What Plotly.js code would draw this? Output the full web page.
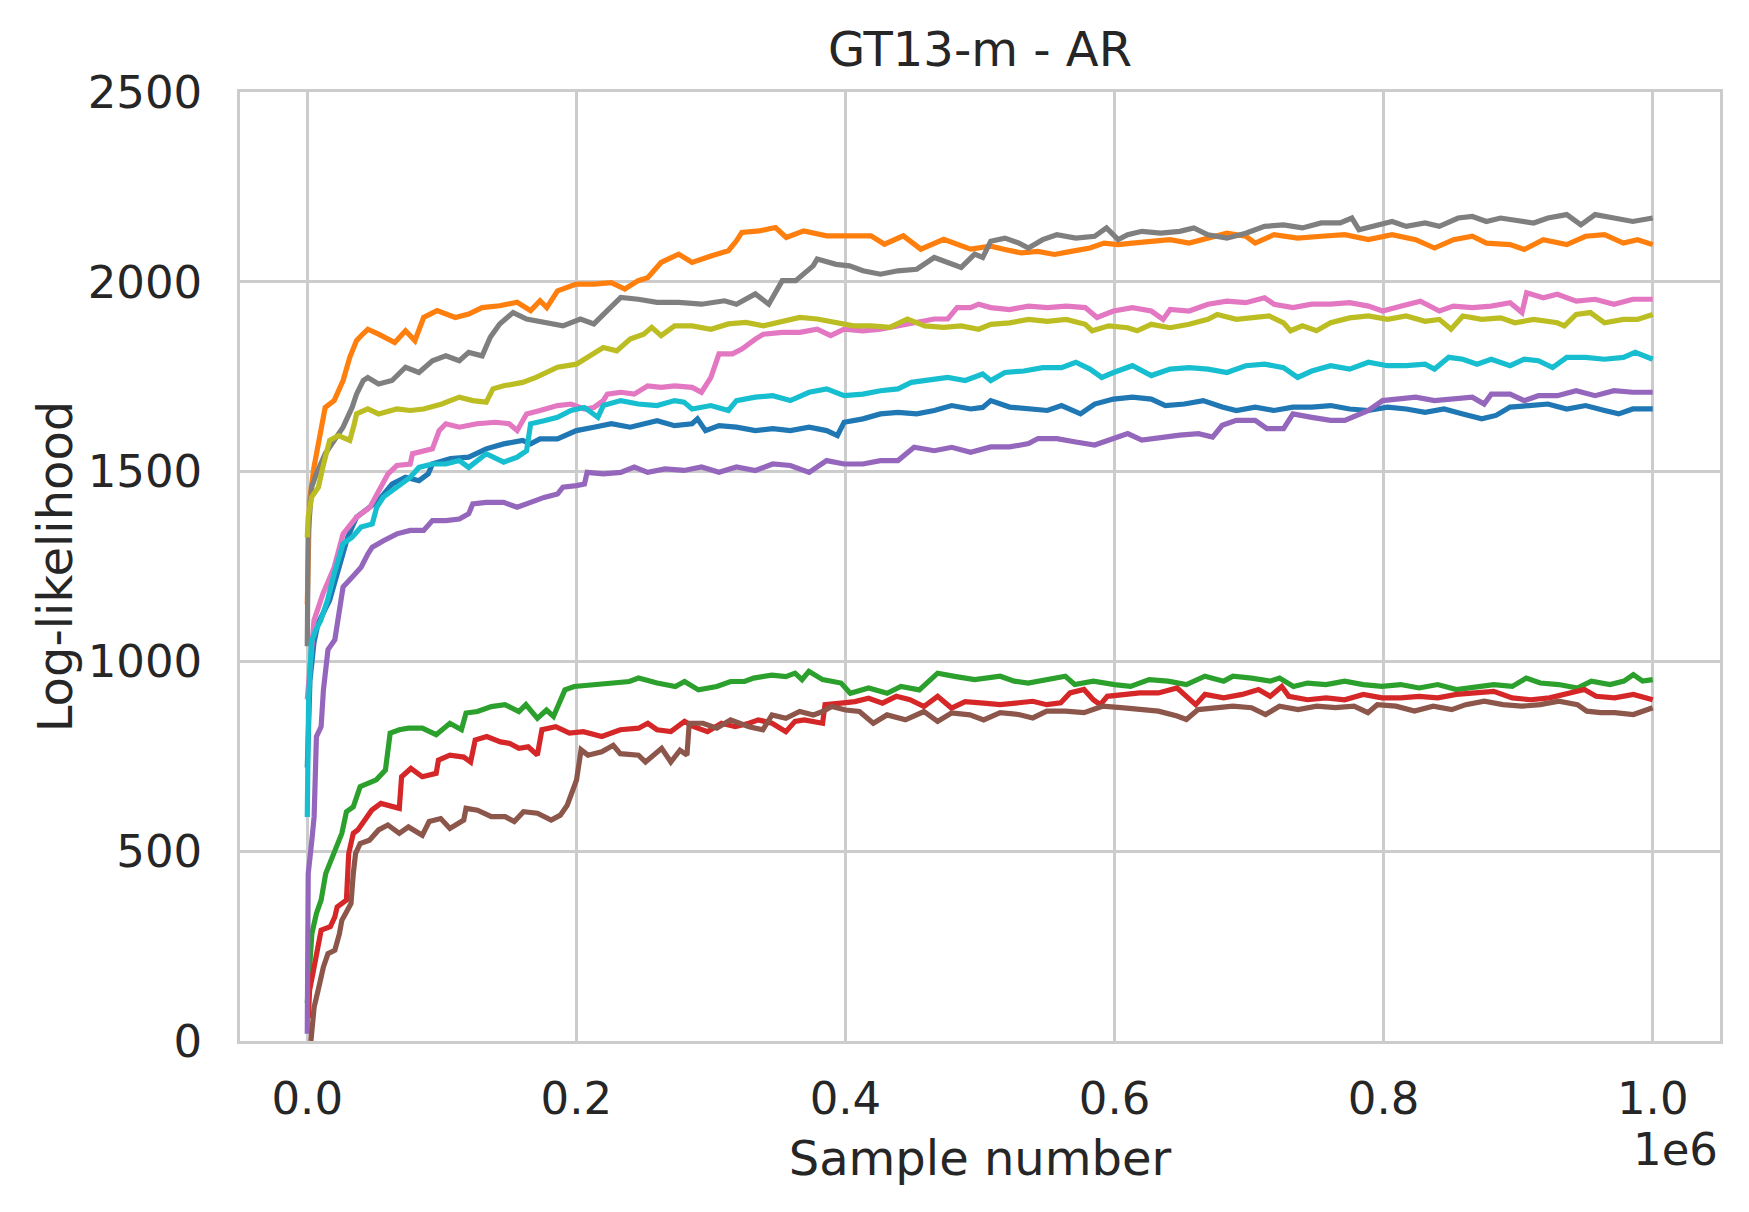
<!DOCTYPE html>
<html>
<head>
<meta charset="utf-8">
<script src="https://cdn.plot.ly/plotly-3.0.1.min.js"></script>
<style>
  html, body { margin: 0; padding: 0; background: #ffffff; }
  #chart { width: 1749px; height: 1212px; }
</style>
</head>
<body>
<div id="chart"></div>
<script>
// tick labels
var xTickVals = [0, 200000, 400000, 600000, 800000, 1000000]
var xTickText = ["0.0", "0.2", "0.4", "0.6", "0.8", "1.0"]
var yTickVals = [0, 500, 1000, 1500, 2000, 2500]

// series values (sample number, log-likelihood)
var blueX = [0, 2000, 5000, 8000, 16600, 23300, 30000, 36600, 43300, 53000, 63000, 73000, 83000, 89900, 93000, 106500, 120000, 133000, 146000, 160000, 166000, 173000, 186000, 200000, 213000, 226000, 240000, 250000, 260000, 273000, 286000, 290000, 296000, 306000, 319000, 333000, 346000, 359000, 373000, 386000, 394000, 399000, 413000, 426000, 439000, 453000, 466000, 479000, 493000, 502000,
    508000, 522000, 536100, 550100, 560600, 574700, 585200, 599200, 613300, 627300, 637800, 651900, 665900, 680000, 690500, 704500, 718500, 732600, 746600, 760600, 774700, 788700, 802800, 816800, 830800, 844900, 858900, 872900, 883500, 894000, 908000, 922100, 936100, 950100, 964200, 974700, 985200, 1000000]
var blueY = [720, 950, 1050, 1100, 1161, 1248, 1327, 1380, 1397, 1424, 1467, 1485, 1476, 1494, 1520, 1534, 1538, 1560, 1573, 1582, 1573, 1586, 1586, 1608, 1617, 1626, 1617, 1626, 1634, 1621, 1626, 1639, 1608, 1621, 1617, 1608, 1613, 1608, 1617, 1608, 1595, 1630, 1639, 1652, 1656, 1652, 1661, 1674, 1665, 1669,
    1687, 1670, 1665, 1661, 1674, 1652, 1678, 1691, 1696, 1691, 1674, 1678, 1687, 1670, 1661, 1670, 1661, 1670, 1670, 1674, 1665, 1661, 1670, 1665, 1656, 1665, 1652, 1639, 1648, 1670, 1674, 1678, 1665, 1674, 1661, 1652, 1665, 1665]

var orangeX = [0, 1000, 1664, 5000, 8320, 13300, 20000, 26600, 31600, 36600, 40000, 45000, 53000, 65000, 73000, 80000, 86500, 96500, 110000, 120000, 130000, 143000, 156000, 166000, 173000, 178000, 186000, 200000, 213000, 226000, 236000, 246000, 253000, 263000, 276000, 286000, 300000, 313000, 319000, 323000, 336000, 348000, 356000, 369000, 386000, 401000, 419000, 429000, 443000, 456000, 473000, 493000,
    508000, 518500, 530800, 543000, 555400, 567700, 581700, 592200, 602700, 613300, 627300, 641300, 655400, 669400, 683500, 697500, 704500, 718500, 736100, 753600, 771200, 788700, 806300, 823800, 837800, 851900, 865900, 876400, 894000, 904500, 918600, 936100, 950100, 964200, 978200, 988700, 1000000]
var orangeY = [1150, 1400, 1424, 1512, 1582, 1669, 1687, 1740, 1801, 1845, 1858, 1875, 1862, 1840, 1871, 1845, 1906, 1924, 1906, 1915, 1932, 1937, 1946, 1924, 1950, 1932, 1976, 1994, 1994, 1998, 1981, 2003, 2011, 2051, 2073, 2051, 2068, 2082, 2108, 2130, 2134, 2143, 2117, 2134, 2121, 2121, 2121, 2099, 2121, 2086, 2112, 2086,
    2094, 2085, 2076, 2080, 2072, 2080, 2089, 2102, 2098, 2102, 2107, 2111, 2102, 2115, 2128, 2120, 2102, 2124, 2115, 2120, 2124, 2111, 2124, 2111, 2089, 2111, 2120, 2102, 2098, 2085, 2111, 2098, 2120, 2124, 2102, 2111, 2098]

var greenX = [0, 700, 1700, 3400, 6800, 10300, 13700, 18800, 22200, 25700, 29100, 34200, 39300, 44500, 51300, 58100, 61600, 68400, 75200, 85500, 95800, 106000, 114600, 118000, 126500, 136800, 147000, 157300, 162500, 171000, 177800, 183000, 191500, 198400, 212000, 225700, 239400, 246200, 260000, 273600, 280400, 290700, 304400, 314600, 325000, 331700, 345400, 355700, 362500, 367700, 372800, 383000, 396700, 403600, 417200, 431000, 441200, 454900, 468500, 482200, 496000,
    515000, 525400, 535800, 549600, 563400, 570400, 584200, 600000, 611900, 625700, 639600, 653400, 667200, 681100, 688000, 701800, 715700, 722600, 733000, 743400, 757200, 771000, 784900, 798700, 812600, 826400, 840200, 854100, 867900, 881800, 895600, 906000, 916400, 930200, 944000, 954400, 968300, 978600, 985600, 992500, 1000000]
var greenY = [100, 150, 177, 283, 336, 371, 441, 485, 512, 547, 604, 617, 670, 679, 688, 714, 811, 820, 824, 824, 807, 837, 820, 864, 868, 881, 886, 868, 886, 850, 872, 855, 925, 934, 938, 943, 947, 956, 943, 934, 947, 925, 934, 947, 947, 956, 964, 960, 969, 952, 974, 952, 943, 916, 930, 916, 934, 925, 969, 960, 952,
    961, 948, 943, 952, 961, 939, 948, 939, 934, 952, 948, 939, 961, 948, 961, 956, 948, 956, 934, 943, 939, 948, 939, 934, 939, 930, 939, 926, 934, 939, 934, 956, 943, 939, 930, 948, 939, 948, 965, 948, 952]

var redX = [800, 1700, 5100, 8600, 10300, 17100, 20500, 22200, 25700, 29100, 30800, 34200, 37600, 42800, 47900, 54700, 61600, 68400, 70100, 77000, 85500, 95800, 97500, 106000, 116300, 121400, 124800, 133400, 143600, 150500, 157300, 164200, 171000, 174400, 184700, 194900, 205200, 218900, 232600, 246200, 253100, 259900, 270200, 280400, 287300, 297500, 307800, 318100, 328300, 335200, 345400, 355700, 362500, 369400, 383000, 384800, 396700, 407000, 417200, 427500, 437800, 448000, 458300, 468500, 478800, 489000, 502700,
    515000, 528800, 539200, 549600, 560000, 566900, 577300, 584200, 589400, 594600, 605000, 618800, 632600, 646500, 653400, 660300, 667200, 681100, 694900, 707000, 715700, 724300, 729500, 743400, 757200, 771000, 784900, 798700, 812600, 826400, 840200, 854100, 867900, 881800, 895600, 909400, 923300, 937100, 949200, 957900, 971700, 985600, 1000000]
var redY = [60, 133, 195, 265, 292, 301, 327, 353, 362, 371, 494, 547, 556, 582, 608, 626, 621, 613, 696, 718, 696, 705, 740, 753, 748, 735, 793, 802, 788, 784, 771, 775, 753, 820, 828, 811, 815, 802, 820, 824, 837, 820, 815, 842, 828, 815, 837, 828, 837, 846, 837, 815, 842, 846, 837, 886, 890, 894, 903, 890, 908, 899, 881, 908, 877, 894, 890,
    886, 891, 895, 886, 891, 917, 926, 899, 886, 908, 913, 917, 917, 930, 908, 886, 913, 904, 913, 926, 908, 934, 908, 899, 904, 899, 913, 904, 904, 908, 904, 913, 917, 921, 904, 899, 904, 917, 926, 908, 904, 913, 899]

var purpleX = [0, 700, 3400, 5100, 6800, 10300, 12000, 15400, 20500, 26600, 33300, 40000, 45000, 48300, 56600, 66600, 76500, 86500, 93000, 103000, 113000, 120000, 123000, 133000, 146000, 156000, 166000, 176000, 186000, 190000, 200000, 206000, 208000, 220000, 233000, 243000, 253000, 266000, 280000, 293000, 306000, 319000, 333000, 346000, 359000, 373000, 386000, 399000, 413000, 426000, 439000, 451000, 466000, 479000, 493000,
    508000, 522000, 536100, 543100, 557100, 571200, 585200, 599200, 609800, 620300, 634300, 648400, 662400, 672900, 680000, 690500, 704500, 713300, 725600, 732600, 746600, 760600, 771200, 781700, 788700, 799200, 809800, 823800, 837800, 851900, 865900, 874700, 880000, 894000, 904500, 915000, 929100, 943100, 957200, 971200, 985200, 1000000]
var purpleY = [19, 441, 529, 591, 802, 828, 925, 1031, 1057, 1196, 1222, 1248, 1283, 1301, 1318, 1336, 1345, 1345, 1371, 1371, 1375, 1389, 1415, 1419, 1419, 1406, 1419, 1432, 1441, 1459, 1463, 1467, 1498, 1494, 1498, 1512, 1498, 1507, 1503, 1512, 1498, 1512, 1503, 1520, 1516, 1498, 1529, 1520, 1520, 1529, 1529, 1564, 1555, 1564, 1551,
    1565, 1565, 1574, 1587, 1587, 1578, 1570, 1587, 1600, 1583, 1591, 1596, 1600, 1591, 1622, 1635, 1635, 1613, 1613, 1652, 1643, 1635, 1635, 1652, 1661, 1687, 1691, 1696, 1687, 1691, 1696, 1678, 1704, 1704, 1687, 1700, 1700, 1713, 1700, 1713, 1709, 1709]

var brownX = [2700, 5100, 8600, 12000, 15400, 20500, 23900, 25700, 29100, 32500, 34200, 35900, 39300, 46200, 53000, 59900, 68400, 75200, 85500, 90600, 99200, 106000, 116300, 118000, 126500, 136800, 147000, 153900, 160700, 171000, 181300, 188100, 193200, 196700, 200100, 203500, 208600, 218900, 227400, 232600, 246200, 251400, 259900, 263400, 270200, 277000, 282200, 283900, 294100, 304400, 314600, 328300, 338600, 345400, 355700, 366000, 376200, 383000, 389900, 400100, 410400, 420700, 430900, 444600, 458300, 468500, 478800, 492500, 502700,
    515000, 528800, 539200, 549600, 563400, 577300, 591100, 605000, 618800, 632600, 646500, 653400, 662100, 674200, 688000, 701800, 712200, 722600, 736400, 750300, 764100, 778000, 788300, 795300, 809100, 822900, 836800, 850600, 861000, 874800, 888700, 902500, 916400, 930200, 944000, 951000, 961300, 971700, 985600, 1000000]
var brownY = [0, 89, 142, 195, 230, 239, 283, 318, 340, 362, 441, 494, 520, 529, 556, 569, 547, 564, 542, 578, 586, 560, 582, 613, 608, 591, 591, 578, 604, 600, 582, 595, 621, 652, 687, 767, 753, 762, 779, 757, 753, 735, 762, 771, 735, 766, 753, 837, 837, 824, 846, 828, 820, 859, 850, 868, 859, 868, 881, 872, 868, 837, 859, 846, 868, 842, 864, 859, 846,
    865, 860, 851, 869, 869, 865, 882, 878, 873, 869, 856, 847, 873, 878, 882, 878, 860, 882, 873, 882, 878, 882, 865, 886, 882, 869, 882, 873, 886, 895, 886, 882, 886, 895, 886, 869, 865, 865, 860, 878]

var pinkX = [0, 3000, 5000, 11600, 20000, 26600, 36600, 46600, 53000, 60000, 66600, 76500, 78200, 86500, 93000, 98000, 103000, 113000, 126000, 140000, 150000, 156000, 163000, 173000, 186000, 196000, 206000, 213000, 220000, 223000, 233000, 243000, 253000, 263000, 273000, 286000, 293000, 300000, 306000, 316000, 323000, 333000, 339000, 353000, 366000, 379000, 389000, 399000, 413000, 426000, 439000, 453000, 466000, 476000, 483000, 493000, 499000,
    508000, 522000, 536100, 550100, 564100, 578200, 587000, 599200, 613300, 627300, 636100, 641300, 655400, 669400, 683500, 697500, 711500, 718500, 732600, 746600, 760600, 774700, 788700, 799200, 813300, 827300, 841400, 851900, 865900, 880000, 894000, 902800, 906300, 918600, 929100, 943100, 957200, 971200, 985200, 1000000]
var pinkY = [900, 1050, 1108, 1178, 1248, 1336, 1380, 1406, 1450, 1494, 1516, 1520, 1547, 1555, 1560, 1608, 1626, 1617, 1626, 1630, 1626, 1608, 1652, 1661, 1674, 1678, 1665, 1669, 1687, 1704, 1709, 1704, 1726, 1722, 1726, 1722, 1709, 1748, 1810, 1810, 1823, 1849, 1862, 1867, 1867, 1875, 1858, 1875, 1871, 1875, 1884, 1893, 1902, 1902, 1932, 1932, 1941,
    1932, 1927, 1936, 1932, 1936, 1932, 1906, 1923, 1932, 1923, 1901, 1927, 1923, 1941, 1949, 1945, 1958, 1941, 1932, 1941, 1941, 1945, 1936, 1923, 1936, 1949, 1923, 1936, 1932, 1936, 1945, 1919, 1971, 1958, 1967, 1949, 1954, 1941, 1954, 1954]

var grayX = [0, 666, 3300, 6700, 13300, 20000, 26600, 33300, 36600, 41600, 45000, 53000, 63000, 73000, 83000, 93000, 103000, 113000, 120000, 130000, 136000, 143000, 153000, 163000, 176000, 190000, 203000, 213000, 223000, 233000, 246000, 260000, 276000, 293000, 310000, 319000, 333000, 343000, 353000, 363000, 376000, 379000, 393000, 403000, 413000, 426000, 439000, 453000, 466000, 476000, 486000, 496000, 502000,
    508000, 518500, 529000, 536000, 546600, 557100, 571200, 585200, 594000, 602700, 609800, 620300, 634300, 648400, 658900, 669400, 683500, 697500, 711500, 725600, 739600, 753600, 767700, 776400, 781700, 795700, 806300, 816800, 830800, 841400, 855400, 865900, 876400, 886900, 901000, 911500, 922100, 936100, 946600, 957200, 971200, 985200, 1000000]
var grayY = [1040, 1336, 1459, 1494, 1547, 1582, 1617, 1669, 1704, 1740, 1748, 1731, 1740, 1775, 1761, 1792, 1805, 1792, 1814, 1805, 1854, 1889, 1919, 1902, 1893, 1884, 1902, 1889, 1924, 1959, 1954, 1946, 1946, 1941, 1950, 1941, 1968, 1941, 2003, 2003, 2042, 2060, 2046, 2042, 2029, 2020, 2029, 2033, 2064, 2051, 2038, 2073, 2064,
    2107, 2115, 2102, 2089, 2111, 2124, 2115, 2120, 2142, 2111, 2124, 2133, 2128, 2133, 2142, 2124, 2115, 2128, 2146, 2150, 2142, 2155, 2155, 2168, 2137, 2150, 2159, 2146, 2155, 2146, 2168, 2172, 2159, 2168, 2159, 2155, 2168, 2177, 2150, 2177, 2168, 2159, 2168]

var oliveX = [0, 666, 3300, 8300, 11600, 16600, 23300, 31600, 35000, 36600, 45000, 53000, 66600, 76500, 86500, 100000, 113000, 123000, 133000, 138000, 146000, 160000, 170000, 176000, 186000, 200000, 210000, 220000, 230000, 240000, 250000, 256000, 263000, 273000, 286000, 300000, 313000, 326000, 339000, 353000, 366000, 379000, 393000, 406000, 419000, 433000, 446000, 459000, 473000, 486000, 499000,
    508000, 522000, 536100, 550100, 564100, 578200, 583400, 595700, 609800, 616800, 627300, 641300, 655400, 669400, 676400, 690500, 704500, 715000, 725600, 730800, 739600, 750100, 760600, 774700, 788700, 802800, 816800, 830800, 841400, 850100, 858900, 872900, 887000, 897500, 911500, 929100, 934300, 943100, 953600, 964200, 978200, 988700, 1000000]
var oliveY = [1327, 1380, 1433, 1459, 1512, 1582, 1595, 1582, 1626, 1652, 1665, 1652, 1665, 1661, 1665, 1678, 1696, 1687, 1683, 1718, 1726, 1735, 1748, 1757, 1775, 1783, 1805, 1827, 1818, 1849, 1862, 1880, 1858, 1884, 1884, 1875, 1889, 1893, 1884, 1897, 1906, 1902, 1893, 1884, 1884, 1880, 1902, 1884, 1880, 1884, 1875,
    1888, 1892, 1901, 1896, 1901, 1888, 1871, 1884, 1879, 1871, 1888, 1879, 1888, 1901, 1914, 1901, 1905, 1910, 1892, 1871, 1884, 1871, 1892, 1905, 1910, 1901, 1910, 1896, 1901, 1875, 1910, 1901, 1905, 1892, 1901, 1892, 1884, 1914, 1919, 1892, 1901, 1901, 1914]

var cyanX = [0, 1000, 3000, 6000, 10000, 15000, 20000, 26600, 33300, 40000, 48300, 51600, 56600, 66600, 76500, 83000, 93000, 103000, 113000, 120000, 133000, 146000, 156000, 163000, 166000, 176000, 186000, 196000, 206000, 216000, 220000, 233000, 246000, 260000, 273000, 280000, 286000, 300000, 313000, 319000, 333000, 346000, 359000, 373000, 386000, 399000, 413000, 426000, 439000, 449000, 463000, 476000, 489000, 502000,
    508000, 518500, 532600, 546600, 560600, 571200, 581700, 590500, 599200, 613300, 627300, 641300, 655400, 669400, 683500, 697500, 711500, 725600, 736100, 746600, 760600, 774700, 788700, 802800, 816800, 830800, 837800, 848400, 858900, 869400, 880000, 894000, 904500, 915000, 925600, 936100, 950100, 964200, 978200, 987000, 1000000]
var cyanY = [590, 900, 1050, 1080, 1108, 1161, 1231, 1310, 1327, 1354, 1362, 1406, 1433, 1459, 1485, 1511, 1520, 1520, 1529, 1511, 1547, 1525, 1538, 1555, 1626, 1634, 1643, 1661, 1669, 1643, 1674, 1687, 1678, 1674, 1687, 1683, 1665, 1674, 1661, 1687, 1696, 1700, 1687, 1709, 1718, 1700, 1704, 1713, 1718, 1735, 1740, 1748, 1740, 1757,
    1740, 1761, 1765, 1774, 1774, 1788, 1770, 1748, 1761, 1779, 1753, 1770, 1774, 1770, 1761, 1779, 1783, 1774, 1748, 1765, 1779, 1770, 1788, 1779, 1779, 1783, 1770, 1801, 1796, 1783, 1796, 1779, 1796, 1792, 1774, 1801, 1801, 1796, 1801, 1814, 1796]

var seriesX = [blueX, orangeX, greenX, redX, purpleX, brownX, pinkX, grayX, oliveX, cyanX]
var seriesY = [blueY, orangeY, greenY, redY, purpleY, brownY, pinkY, grayY, oliveY, cyanY]
var seriesColors = ["#1f77b4", "#ff7f0e", "#2ca02c", "#d62728", "#9467bd",
                    "#8c564b", "#e377c2", "#7f7f7f", "#bcbd22", "#17becf"]

var textColor = "#262626"
var gridColor = "#cccccc"
var fontFamily = "DejaVu Sans, sans-serif"

var traces = []
for (var i = 0; i < seriesX.length; i++) {
    traces.push({
        type: "scatter",
        mode: "lines",
        x: seriesX[i],
        y: seriesY[i],
        line: { color: seriesColors[i], width: 5.2 },
        hoverinfo: "skip",
        showlegend: false,
    })
}

Plotly.newPlot(
    document.getElementById("chart"),
    traces,
    {
        width: 1749,
        height: 1212,
        paper_bgcolor: "#ffffff",
        plot_bgcolor: "#ffffff",
        margin: {t: 92, l: 240, r: 29, b: 171},
        font: { family: fontFamily, color: textColor, size: 44 },
        title: {
            text: "GT13-m - AR",
            font: { family: fontFamily, size: 48, color: textColor },
            xref: "paper",
            x: 0.5,
            xanchor: "center",
            yref: "container",
            y: 0.959,
            yanchor: "middle",
        },
        xaxis: {
            range: [-50000, 1050000],
            tickvals: xTickVals,
            ticktext: xTickText,
            ticks: "outside",
            ticklen: 16,
            tickcolor: "rgba(0,0,0,0)",
            tickfont: { size: 45 },
            showgrid: true,
            gridcolor: gridColor,
            gridwidth: 2.6,
            zeroline: false,
            showline: true,
            linecolor: gridColor,
            linewidth: 2.8,
            mirror: true,
            title: {
                text: "Sample number",
                font: { size: 48 },
                standoff: 18,
            },
        },
        yaxis: {
            range: [0, 2500],
            tickvals: yTickVals,
            ticks: "outside",
            ticklen: 26,
            tickcolor: "rgba(0,0,0,0)",
            tickfont: { size: 45 },
            showgrid: true,
            gridcolor: gridColor,
            gridwidth: 2.6,
            zeroline: false,
            showline: true,
            linecolor: gridColor,
            linewidth: 2.8,
            mirror: true,
            title: {
                text: "Log-likelihood",
                font: { size: 48 },
                standoff: 0,
            },
        },
        annotations: [{
            text: "1e6",
            showarrow: false,
            xref: "paper",
            yref: "paper",
            x: 1,
            y: -0.114,
            xanchor: "right",
            yanchor: "middle",
            font: { size: 45 },
        }],
    },
    { displayModeBar: false, staticPlot: true }
)
</script>
</body>
</html>
